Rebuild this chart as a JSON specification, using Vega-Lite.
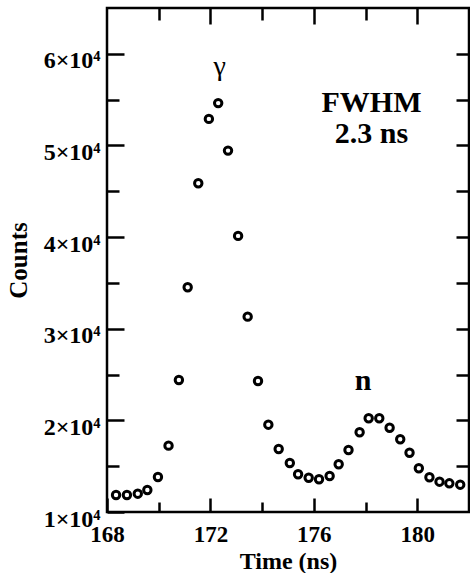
{
  "$schema": "https://vega.github.io/schema/vega-lite/v6.json",
  "width": 362,
  "height": 504,
  "autosize": "none",
  "padding": {"left": 107, "top": 8, "right": 1, "bottom": 61},
  "config": {
    "view": {"stroke": "black", "strokeWidth": 2.5},
    "axis": {"grid": false, "domain": false, "tickWidth": 2.5}
  },
  "data": {"values": [
    {"t": 168.35, "c": 11860}, {"t": 168.77, "c": 11860}, {"t": 169.19, "c": 12000}, {"t": 169.56, "c": 12400},
    {"t": 169.97, "c": 13820}, {"t": 170.38, "c": 17240}, {"t": 170.78, "c": 24410}, {"t": 171.12, "c": 34530},
    {"t": 171.53, "c": 45880}, {"t": 171.94, "c": 52900}, {"t": 172.30, "c": 54620}, {"t": 172.68, "c": 49440},
    {"t": 173.07, "c": 40130}, {"t": 173.44, "c": 31320}, {"t": 173.84, "c": 24300}, {"t": 174.24, "c": 19530},
    {"t": 174.64, "c": 16880}, {"t": 175.07, "c": 15350}, {"t": 175.39, "c": 14120}, {"t": 175.80, "c": 13740},
    {"t": 176.20, "c": 13570}, {"t": 176.61, "c": 13930}, {"t": 176.96, "c": 15210}, {"t": 177.34, "c": 16770},
    {"t": 177.77, "c": 18700}, {"t": 178.12, "c": 20230}, {"t": 178.53, "c": 20230}, {"t": 178.93, "c": 19200},
    {"t": 179.34, "c": 17940}, {"t": 179.70, "c": 16470}, {"t": 180.06, "c": 14770}, {"t": 180.47, "c": 13790},
    {"t": 180.86, "c": 13310}, {"t": 181.24, "c": 13130}, {"t": 181.66, "c": 12980}
  ]},
  "resolve": {"axis": {"x": "independent", "y": "independent"}},
  "layer": [
    {
      "mark": {"type": "point", "shape": "circle", "filled": false, "stroke": "black", "strokeWidth": 3, "size": 55, "opacity": 1},
      "encoding": {
        "x": {"field": "t", "type": "quantitative", "scale": {"domain": [168, 182], "nice": false, "zero": false},
              "axis": {"orient": "bottom", "values": [168, 172, 176, 180], "tickSize": -14, "tickColor": "black", "labelPadding": 25, "labelFlush": false,
                       "labelFont": "Liberation Serif", "labelFontWeight": "bold", "labelFontSize": 23, "labelColor": "black",
                       "title": "Time (ns)", "titlePadding": 3, "titleFont": "Liberation Serif", "titleFontWeight": "bold", "titleFontSize": 24, "titleColor": "black"}},
        "y": {"field": "c", "type": "quantitative", "scale": {"domain": [10000, 65000], "nice": false, "zero": false},
              "axis": {"orient": "left", "values": [10000, 20000, 30000, 40000, 50000, 60000], "tickSize": -17, "tickColor": "black", "labelExpr": "format(datum.value/10000,'d') + '×10⁴'", "labelPadding": 24, "labelOffset": 7, "labelFlush": false,
                       "labelFont": "Liberation Serif", "labelFontWeight": "bold", "labelFontSize": 24, "labelColor": "black",
                       "title": "Counts", "titlePadding": 12, "titleFont": "Liberation Serif", "titleFontWeight": "bold", "titleFontSize": 25, "titleColor": "black"}}
      }
    },
    {
      "mark": {"type": "point", "opacity": 0},
      "encoding": {
        "x": {"field": "t", "type": "quantitative", "axis": {"orient": "bottom", "labels": false, "title": null, "values": [170, 174, 178], "tickSize": 10, "offset": -10, "tickColor": "black"}},
        "y": {"field": "c", "type": "quantitative", "axis": {"orient": "left", "labels": false, "title": null, "values": [15000, 25000, 35000, 45000, 55000], "tickSize": 12, "offset": -12, "tickColor": "black"}}
      }
    },
    {
      "mark": {"type": "point", "opacity": 0},
      "encoding": {
        "x": {"field": "t", "type": "quantitative", "axis": {"orient": "top", "labels": false, "title": null, "values": [172, 176, 180], "tickSize": 16, "offset": -16, "tickColor": "black"}},
        "y": {"field": "c", "type": "quantitative", "axis": {"orient": "right", "labels": false, "title": null, "values": [20000, 30000, 40000, 50000, 60000], "tickSize": 13, "offset": -13, "tickColor": "black"}}
      }
    },
    {
      "mark": {"type": "point", "opacity": 0},
      "encoding": {
        "x": {"field": "t", "type": "quantitative", "axis": {"orient": "top", "labels": false, "title": null, "values": [170, 174, 178], "tickSize": 12, "offset": -12, "tickColor": "black"}},
        "y": {"field": "c", "type": "quantitative", "axis": {"orient": "right", "labels": false, "title": null, "values": [15000, 25000, 35000, 45000, 55000], "tickSize": 13, "offset": -13, "tickColor": "black"}}
      }
    },
    {
      "data": {"values": [{"x": 172.36, "y": 58600, "label": "γ"}]},
      "mark": {"type": "text", "font": "Liberation Serif", "fontSize": 28, "color": "black", "baseline": "middle", "align": "center"},
      "encoding": {
        "x": {"field": "x", "type": "quantitative", "axis": {"orient": "bottom", "labels": false, "ticks": false, "title": null}},
        "y": {"field": "y", "type": "quantitative", "axis": {"orient": "left", "labels": false, "ticks": false, "title": null}},
        "text": {"field": "label"}
      }
    },
    {
      "data": {"values": [{"x": 177.9, "y": 24300, "label": "n"}, {"x": 178.23, "y": 54650, "label": "FWHM"}, {"x": 178.23, "y": 51300, "label": "2.3 ns"}]},
      "mark": {"type": "text", "font": "Liberation Serif", "fontWeight": "bold", "fontSize": 30, "color": "black", "baseline": "middle", "align": "center"},
      "encoding": {
        "x": {"field": "x", "type": "quantitative", "axis": {"orient": "bottom", "labels": false, "ticks": false, "title": null}},
        "y": {"field": "y", "type": "quantitative", "axis": {"orient": "left", "labels": false, "ticks": false, "title": null}},
        "text": {"field": "label"}
      }
    }
  ]
}
